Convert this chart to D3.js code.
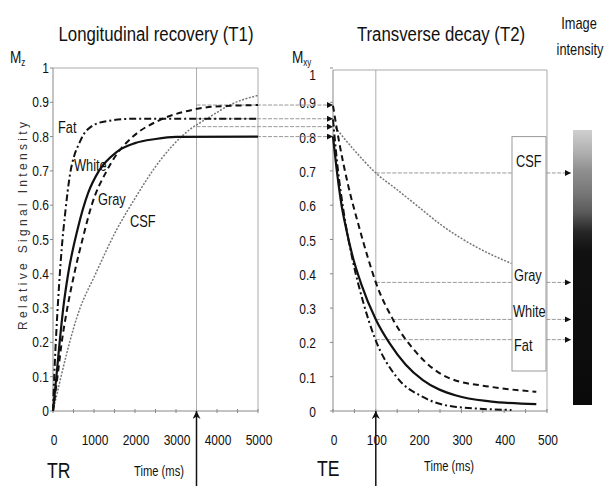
<!DOCTYPE html>
<html>
<head>
<meta charset="utf-8">
<script src="https://cdn.jsdelivr.net/npm/d3@7"></script>
<style>
  body { margin: 0; background: #fff; }
  text { font-family: "Liberation Sans", Arial, sans-serif; fill: #111; }
</style>
</head>
<body>
<div class="center"></div>
<script>
// tissue names
var tissues = ["Fat", "White", "Gray", "CSF"];

// T1 recovery curves, [time ms, Mz]
var t1Fat   = [[0,0],[30,0.1],[90,0.25],[150,0.37],[210,0.47],[300,0.58],[415,0.69],[520,0.745],[620,0.775],[740,0.805],[940,0.83],[1300,0.845],[2000,0.852],[5000,0.852]];
var t1White = [[0,0],[90,0.11],[170,0.21],[250,0.3],[370,0.4],[600,0.53],[855,0.635],[1120,0.7],[1550,0.755],[2000,0.781],[2500,0.793],[3000,0.799],[5000,0.8]];
var t1Gray  = [[0,0],[130,0.12],[212,0.2],[334,0.29],[537,0.41],[740,0.51],[943,0.6],[1310,0.7],[1550,0.748],[1950,0.8],[2600,0.848],[3250,0.874],[3900,0.887],[5000,0.892]];
var t1CSF   = [[0,0],[660,0.3],[1000,0.39],[1550,0.528],[2000,0.62],[2610,0.73],[3180,0.805],[3830,0.858],[4400,0.897],[5000,0.92]];

// T2 decay curves, [time ms, Mxy]
var t2Fat   = [[0,0.85],[10,0.72],[25,0.58],[47,0.434],[70,0.32],[97,0.215],[148,0.1],[210,0.041],[288,0.012],[417,0.003]];
var t2White = [[0,0.8],[10,0.69],[20,0.6],[31,0.53],[45,0.455],[66,0.37],[100,0.267],[132,0.198],[170,0.135],[210,0.09],[288,0.045],[366,0.028],[475,0.02]];
var t2Gray  = [[0,0.89],[15,0.78],[35,0.66],[58,0.55],[82,0.445],[100,0.375],[140,0.267],[195,0.17],[273,0.095],[366,0.071],[475,0.056]];
var t2CSF   = [[0,0.835],[50,0.76],[100,0.694],[150,0.645],[200,0.595],[250,0.545],[335,0.478],[417,0.43]];

// sampling times and the values read there
var TR = 3500, TE = 100;
var atTR = {Gray: 0.892, Fat: 0.852, CSF: 0.829, White: 0.8};
var atTE = {CSF: 0.694, Gray: 0.375, White: 0.267, Fat: 0.208};

var yTicks = [0,0.1,0.2,0.3,0.4,0.5,0.6,0.7,0.8,0.9,1];
var xTicksL = [0,1000,2000,3000,4000,5000];
var xTicksR = [0,100,200,300,400,500];

var width = 613, height = 486;
var svg = d3.select(".center").append("svg")
    .attr("width", width)
    .attr("height", height);

var defs = svg.append("defs");
defs.append("marker")
    .attr("id", "arr")
    .attr("viewBox", "0 0 10 10")
    .attr("refX", 10).attr("refY", 5)
    .attr("markerWidth", 7).attr("markerHeight", 6)
    .attr("markerUnits", "userSpaceOnUse")
    .attr("orient", "auto")
  .append("path").attr("d", "M0,0L10,5L0,10Z").attr("fill", "#111");
defs.append("marker")
    .attr("id", "arrBig")
    .attr("viewBox", "0 0 10 10")
    .attr("refX", 10).attr("refY", 5)
    .attr("markerWidth", 14).attr("markerHeight", 8)
    .attr("markerUnits", "userSpaceOnUse")
    .attr("orient", "auto")
  .append("path").attr("d", "M0,0L10,5L0,10L3,5Z").attr("fill", "#111");
var grad = defs.append("linearGradient").attr("id", "bar")
    .attr("x1", 0).attr("y1", 0).attr("x2", 0).attr("y2", 1);
[[0,"#cfcfcf"],[0.08,"#b0b0b0"],[0.15,"#8e8e8e"],[0.22,"#7a7a7a"],[0.3,"#5a5a5a"],[0.37,"#262626"],[0.44,"#111"],[1,"#0a0a0a"]]
  .forEach(function(s) { grad.append("stop").attr("offset", s[0]).attr("stop-color", s[1]); });

// narrow-looking text: squeeze horizontally
function label(x, yy, str, size, anchor) {
  return svg.append("text")
    .attr("transform", "translate(" + x + "," + yy + ") scale(0.8,1)")
    .attr("text-anchor", anchor || "start")
    .style("font-size", size + "px")
    .text(str);
}

// scales
var xL = d3.scaleLinear().domain([0,5000]).range([53,258]);
var xR = d3.scaleLinear().domain([0,500]).range([333,547]);
var y = d3.scaleLinear().domain([0,1]).range([411,68]);

var style = {
  Fat:   {dash: "7,3,2,3", w: 2, c: "#111"},
  White: {dash: null, w: 2.2, c: "#111"},
  Gray:  {dash: "6,4", w: 2, c: "#111"},
  CSF:   {dash: "2,1.5", w: 1.5, c: "#777"}
};

function frame(x, top, ticksX, minor) {
  var g = svg.append("g");
  // top & right borders
  g.append("path")
    .attr("d", "M" + x.range()[0] + "," + top + "H" + x.range()[1] + "V" + y(0))
    .attr("fill", "none").attr("stroke", "#aaa").attr("stroke-width", 1);
  // axes
  g.append("line").attr("x1", x.range()[0]).attr("x2", x.range()[0]).attr("y1", y(0)).attr("y2", top)
    .attr("stroke", "#888");
  g.append("line").attr("x1", x.range()[0]).attr("x2", x.range()[1]).attr("y1", y(0)).attr("y2", y(0))
    .attr("stroke", "#888");
  g.selectAll(".yt").data(yTicks).enter().append("line")
    .attr("x1", x.range()[0] - 3).attr("x2", x.range()[0])
    .attr("y1", function(d) { return y(d); }).attr("y2", function(d) { return y(d); })
    .attr("stroke", "#888");
  g.selectAll(".xt").data(d3.range(0, x.domain()[1] + 1, minor)).enter().append("line")
    .attr("x1", function(d) { return x(d); }).attr("x2", function(d) { return x(d); })
    .attr("y1", y(0) - 2).attr("y2", y(0) + 2)
    .attr("stroke", "#888");
  g.selectAll(".xl").data(ticksX).enter().append("text")
    .attr("transform", function(d) { return "translate(" + (x(d) + 1) + ",445) scale(0.8,1)"; })
    .attr("text-anchor", "middle")
    .style("font-size", "15px")
    .text(function(d) { return d; });
  return g;
}

frame(xL, 68, xTicksL, 500);
frame(xR, 70, xTicksR, 50);

// y tick labels
svg.selectAll(".yl").data(yTicks).enter().append("text")
  .attr("transform", function(d) { return "translate(49," + (y(d) + 5) + ") scale(0.8,1)"; })
  .attr("text-anchor", "end").style("font-size", "15px")
  .text(function(d) { return d; });
svg.selectAll(".yr").data(yTicks).enter().append("text")
  .attr("transform", function(d) { return "translate(316," + (y(d) + (d === 1 ? 12 : 6)) + ") scale(0.8,1)"; })
  .attr("text-anchor", "end").style("font-size", "15px")
  .text(function(d) { return d; });

// TR / TE vertical guides
svg.append("line").attr("x1", xL(TR)).attr("x2", xL(TR)).attr("y1", 68).attr("y2", y(0))
  .attr("stroke", "#999").attr("stroke-width", 0.8);
svg.append("line").attr("x1", xR(TE)).attr("x2", xR(TE)).attr("y1", 70).attr("y2", y(0))
  .attr("stroke", "#999").attr("stroke-width", 0.8);

// arrows carrying Mz at TR over to the T2 panel
tissues.forEach(function(t) {
  svg.append("line")
    .attr("x1", xL(TR)).attr("x2", xR(0))
    .attr("y1", y(atTR[t])).attr("y2", y(atTR[t]))
    .attr("stroke", "#999").attr("stroke-width", 1)
    .attr("stroke-dasharray", "4,1.5")
    .attr("marker-end", "url(#arr)");
});

// arrows from TE to the intensity bar
tissues.forEach(function(t) {
  svg.append("line")
    .attr("x1", xR(TE)).attr("x2", 571)
    .attr("y1", y(atTE[t])).attr("y2", y(atTE[t]))
    .attr("stroke", "#999").attr("stroke-width", 1)
    .attr("stroke-dasharray", "4,1.5")
    .attr("marker-end", "url(#arr)");
});

// curves
function drawCurve(data, x, t) {
  var line = d3.line()
    .x(function(d) { return x(d[0]); })
    .y(function(d) { return y(d[1]); })
    .curve(d3.curveMonotoneX);
  svg.append("path")
    .datum(data)
    .attr("d", line)
    .attr("fill", "none")
    .attr("stroke", style[t].c)
    .attr("stroke-width", style[t].w)
    .attr("stroke-dasharray", style[t].dash);
}
drawCurve(t1CSF, xL, "CSF");
drawCurve(t1Gray, xL, "Gray");
drawCurve(t1White, xL, "White");
drawCurve(t1Fat, xL, "Fat");
drawCurve(t2CSF, xR, "CSF");
drawCurve(t2Gray, xR, "Gray");
drawCurve(t2White, xR, "White");
drawCurve(t2Fat, xR, "Fat");

// label box on the T2 panel
svg.append("rect")
  .attr("x", 512).attr("y", y(0.8)).attr("width", 34).attr("height", 371 - y(0.8))
  .attr("fill", "#fff").attr("stroke", "#999").attr("stroke-width", 1);
label(516, 167, "CSF", 16);
label(514, 281, "Gray", 16);
label(513, 317, "White", 16);
label(514, 351, "Fat", 16);

// labels on the T1 curves
label(58, 133, "Fat", 16);
label(74, 171, "White", 16);
label(98, 205, "Gray", 16);
label(130, 227, "CSF", 16);

// intensity bar
svg.append("rect").attr("x", 573).attr("y", 130).attr("width", 19).attr("height", 275)
  .attr("fill", "url(#bar)");

// titles
label(156, 41, "Longitudinal recovery (T1)", 21, "middle");
label(441, 41, "Transverse decay (T2)", 21, "middle");
label(579, 29, "Image", 16, "middle");
label(580, 55, "intensity", 16, "middle");

// axis symbols
var mz = svg.append("text").attr("transform", "translate(10,63) scale(0.8,1)").style("font-size", "17px");
mz.append("tspan").text("M");
mz.append("tspan").attr("dy", 3).style("font-size", "10px").text("z");
var mxy = svg.append("text").attr("transform", "translate(292,63) scale(0.8,1)").style("font-size", "17px");
mxy.append("tspan").text("M");
mxy.append("tspan").attr("dy", 3).style("font-size", "10px").text("xy");

// y axis title
svg.append("text")
  .attr("transform", "translate(27,226) rotate(-90)")
  .attr("text-anchor", "middle")
  .style("font-size", "12px")
  .style("fill", "#333")
  .attr("textLength", 208)
  .text("Relative Signal Intensity");

// bottom labels
label(159, 476, "Time (ms)", 14, "middle");
label(449, 471, "Time (ms)", 14, "middle");
label(47, 478, "TR", 22);
label(317, 476, "TE", 22);

// TR / TE pointers from below
[xL(TR), xR(TE)].forEach(function(px) {
  svg.append("line").attr("x1", px).attr("x2", px).attr("y1", height).attr("y2", y(0))
    .attr("stroke", "#111").attr("stroke-width", 1.5)
    .attr("marker-end", "url(#arrBig)");
});
</script>
</body>
</html>
